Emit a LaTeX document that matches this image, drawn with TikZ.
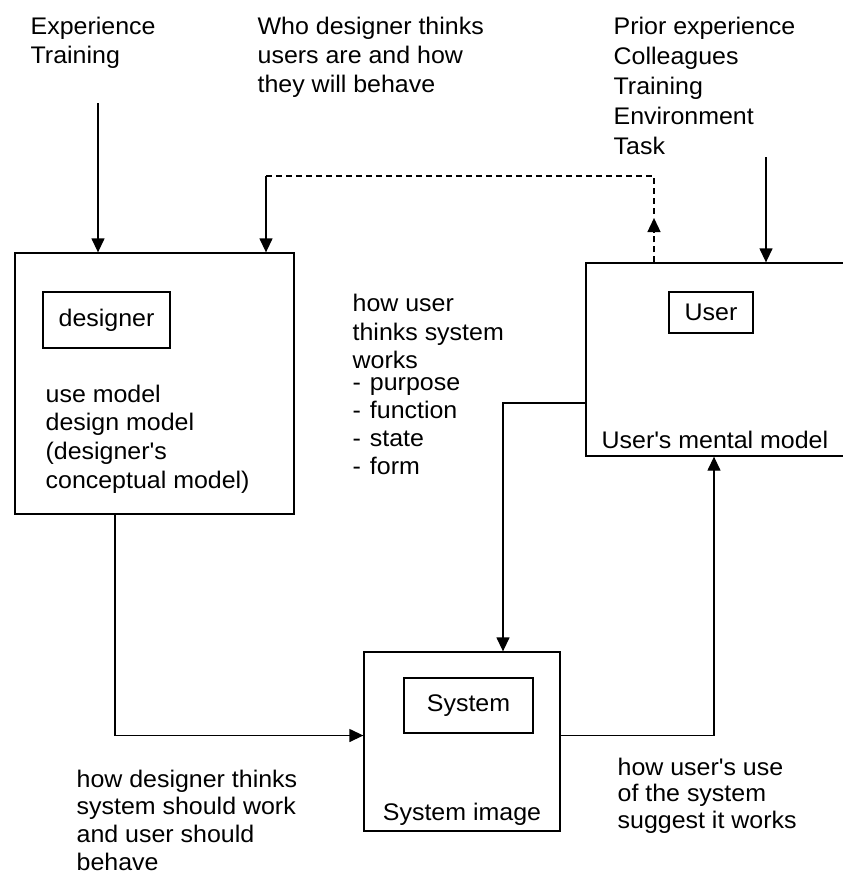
\documentclass[tikz,border=0pt]{standalone}
\usepackage{fontspec}
\setmainfont{Liberation Sans}[FakeStretch=1.04]
\usetikzlibrary{arrows.meta}
% several left-aligned lines whose first baseline is the node's baseline
\newcommand\txtlines[1]{\begin{tabular}[t]{@{}l@{}}#1\end{tabular}}
\newcommand\apos{\textquotesingle}

\begin{document}
\begin{tikzpicture}[x=1pt,y=-1pt,line width=1.3pt,
  every node/.style={inner sep=0pt},
  txt/.style={anchor=base west, font=\fontsize{24}{#1}\selectfont},
  txt/.default=28.5,
  lbl/.style={draw, font=\fontsize{24}{28}\selectfont},
  arr/.style={-{Triangle[length=14pt,width=13pt]}},
  dsh/.style={dash pattern=on 6pt off 4pt}]
\useasboundingbox (0,0) rectangle (843,876);
\clip (0,0) rectangle (843,876);

% the three models
\node[draw, minimum width=279pt, minimum height=261pt] (dsg) at (154.5,383.5) {};
\node[draw, minimum width=290pt, minimum height=193pt] (usr) at (731,359.5) {};
\node[draw, minimum width=196pt, minimum height=179pt] (sys) at (462,741.5) {};

% labels inside the models
\node[lbl, minimum width=127pt, minimum height=56pt] (dlab) at (106.5,320) {designer};
\node[lbl, minimum width=84pt, minimum height=41pt] (ulab) at (711,312.5) {User};
\node[lbl, minimum width=129pt, minimum height=55pt] (slab) at (468.5,705.5) {System};

\node[txt=28.7] (tUse) at (45,402)
  {\txtlines{use model\\design model\\(designer\apos s\\conceptual model)}};
\node[txt] (tMental) at (601,448) {User\apos s mental model};
\node[anchor=base, font=\fontsize{24}{28}\selectfont] (tImg) at (462,820.7) {System image};

% influences
\node[txt=29] (tExp) at (30,34.3) {\txtlines{Experience\\Training}};
\node[txt=29] (tWho) at (257,34.3)
  {\txtlines{Who designer thinks\\users are and how\\they will behave}};
\node[txt=30] (tPrior) at (613,34.3)
  {\txtlines{Prior experience\\Colleagues\\Training\\Environment\\Task}};

\node[txt=28.3] (tHow) at (352,311.7) {\txtlines{how user\\thinks system\\works}};
\node[txt=28.3] (tList) at (352,390)
  {\txtlines{-\hspace{9pt}purpose\\-\hspace{9pt}function\\-\hspace{9pt}state\\-\hspace{9pt}form}};

\node[txt=27.7] (tDes) at (76,787)
  {\txtlines{how designer thinks\\system should work\\and user should\\behave}};
\node[txt=26.5] (tSug) at (617,775)
  {\txtlines{how user\apos s use\\of the system\\suggest it works}};

% connectors
\coordinate (expEnd) at (98,103);
\draw[arr] (expEnd) -- (expEnd |- dsg.north);

\coordinate (priorEnd) at (766,157);
\draw[arr] (priorEnd) -- (priorEnd |- usr.north);

\coordinate (fbTop) at (654,176);
\coordinate (fbTip) at (654,218);
\coordinate (fbLeft) at (266,176);
\draw[dsh, arr] (fbTip |- usr.north) -- (fbTip);
\draw[dsh] (fbLeft) -- (fbTop) -- (fbTip);
\draw[arr] (fbLeft) -- (fbLeft |- dsg.north);

\coordinate (dA) at (115,735.5);
\draw[arr] (dA |- dsg.south) -- (dA) -- (dA -| sys.west);

\coordinate (uA) at (503,403);
\draw[arr] (uA -| usr.west) -- (uA) -- (uA |- sys.north);

\coordinate (sA) at (714,735.5);
\draw[arr] (sA -| sys.east) -- (sA) -- (sA |- usr.south);
\end{tikzpicture}
\end{document}
